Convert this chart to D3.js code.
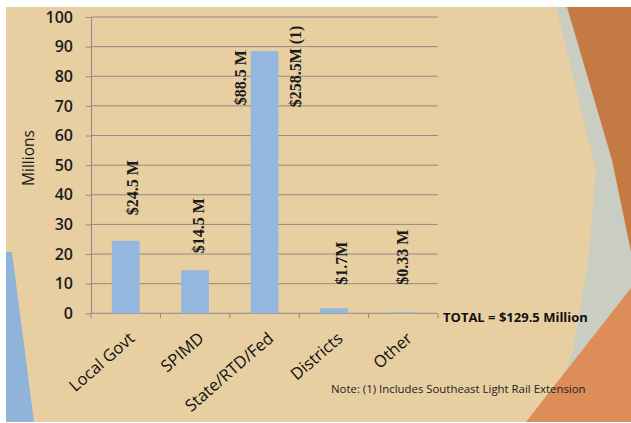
<!DOCTYPE html>
<html><head><meta charset="utf-8">
<script src="https://cdn.jsdelivr.net/npm/d3@7"></script>
<style>body{margin:0;background:#fff;overflow:hidden}</style></head>
<body>
<script>
// ---- data ----
const categories = ["Local Govt", "SPIMD", "State/RTD/Fed", "Districts", "Other"];
const values = [24.5, 14.5, 88.5, 1.7, 0.33];
const valueLabels = ["$24.5 M", "$14.5 M", "$88.5 M", "$1.7M", "$0.33 M"];
const extraLabels = ["", "", "$258.5M (1)", "", ""];
const yTicks = [0, 10, 20, 30, 40, 50, 60, 70, 80, 90, 100];
const yTitle = "Millions";
const totalText = "TOTAL = $129.5 Million";
const noteText = "Note: (1) Includes Southeast Light Rail Extension";

// ---- layout ----
const W = 631, H = 423;
const plot = {left: 91, right: 438, top: 17, bottom: 313.3};
// manual label placement (px offset from band centre, label base in axis units)
const labelPlace = [
  {dx: 7, base: 33.1}, {dx: 3, base: 20.3}, {dx: -24.5, base: 70.2},
  {dx: 7, base: 9.6}, {dx: -1, base: 9.6}
];
const extraPlace = {dx: 30.5, base: 69.5};

const svg = d3.select("body").append("svg").attr("width", W).attr("height", H);

// background
svg.append("rect").attr("width", W).attr("height", H).attr("fill", "#fff");
svg.append("rect").attr("x", 6).attr("y", 7).attr("width", W - 6).attr("height", H - 8).attr("fill", "#E8CFA1");
const deco = svg.append("g");
deco.append("polygon").attr("points", "6,252 12,252 34,422 6,422").attr("fill", "#90B4D9");
deco.append("polygon").attr("points", "556,7 631,7 631,422 540,422 572,355 588,265 596,170").attr("fill", "#CACDC2");
deco.append("polygon").attr("points", "567,7 631,7 631,252 612,160").attr("fill", "#C67A43");
deco.append("polygon").attr("points", "631,288 631,422 526,422").attr("fill", "#DC8D58");

// scales
const x = d3.scaleBand().domain(categories).range([plot.left, plot.right]).paddingInner(0.6).paddingOuter(0.3);
const y = d3.scaleLinear().domain([0, 100]).range([plot.bottom, plot.top]);

const sans = "'Open Sans', 'DejaVu Sans', sans-serif";

// gridlines
svg.append("g").selectAll("line").data(yTicks.filter(d => d > 0)).join("line")
  .attr("x1", plot.left).attr("x2", plot.right)
  .attr("y1", d => y(d)).attr("y2", d => y(d))
  .attr("stroke", "#8e8a86").attr("stroke-width", 1);

// y axis
const yAxis = svg.append("g").attr("transform", `translate(${plot.left},0)`)
  .call(d3.axisLeft(y).tickValues(yTicks).tickSize(5).tickPadding(13).tickSizeOuter(0));
yAxis.select(".domain").attr("stroke", "#8e8a86");
yAxis.selectAll(".tick line").attr("stroke", "#8e8a86");
yAxis.selectAll(".tick text").attr("font-family", sans).attr("font-size", 16)
  .attr("font-weight", 600).attr("fill", "#1b1b1b");

// x axis line and boundary ticks
const half = (x.step() - x.bandwidth()) / 2;
const bounds = categories.map(c => x(c) - half).concat([x(categories[categories.length - 1]) + x.bandwidth() + half]);
svg.append("line").attr("x1", plot.left).attr("x2", plot.right).attr("y1", y(0)).attr("y2", y(0)).attr("stroke", "#8e8a86");
svg.append("g").selectAll("line").data(bounds).join("line")
  .attr("x1", d => d).attr("x2", d => d).attr("y1", y(0)).attr("y2", y(0) + 5).attr("stroke", "#8e8a86");

// bars
svg.append("g").selectAll("rect").data(values).join("rect")
  .attr("x", (d, i) => x(categories[i])).attr("width", x.bandwidth())
  .attr("y", d => y(d)).attr("height", d => y(0) - y(d))
  .attr("fill", "#93B7DF");

// value labels
const serif = "'Liberation Serif', 'Times New Roman', serif";
function vlabel(text, cx, base) {
  svg.append("text").attr("transform", `translate(${cx},${y(base)}) rotate(-90)`)
    .attr("dy", "0.35em").attr("font-family", serif).attr("font-weight", "bold")
    .attr("font-size", 16).attr("fill", "#1a1a1a").text(text);
}
valueLabels.forEach((t, i) => {
  const cx = x(categories[i]) + x.bandwidth() / 2 + labelPlace[i].dx;
  vlabel(t, cx, labelPlace[i].base);
});
extraLabels.forEach((t, i) => {
  if (!t) return;
  const cx = x(categories[i]) + x.bandwidth() / 2 + extraPlace.dx;
  vlabel(t, cx, extraPlace.base);
});

// category labels
svg.append("g").selectAll("text").data(categories).join("text")
  .attr("transform", d => `translate(${x(d) + x.bandwidth() / 2 + 10},${340}) rotate(-41)`)
  .attr("text-anchor", "end").attr("font-family", sans).attr("font-size", 16.5).attr("fill", "#111")
  .text(d => d);

// y title
svg.append("text").attr("transform", `translate(34,158) rotate(-90)`).attr("text-anchor", "middle")
  .attr("font-family", sans).attr("font-size", 15.5).attr("fill", "#1b1b1b").text(yTitle);

// total & note
svg.append("text").attr("x", 443).attr("y", 322).attr("font-family", sans).attr("font-weight", "bold")
  .attr("font-size", 13).attr("fill", "#111").text(totalText);
svg.append("text").attr("x", 331).attr("y", 393).attr("font-family", sans)
  .attr("font-size", 11.4).attr("fill", "#222").text(noteText);
</script>
</body></html>
